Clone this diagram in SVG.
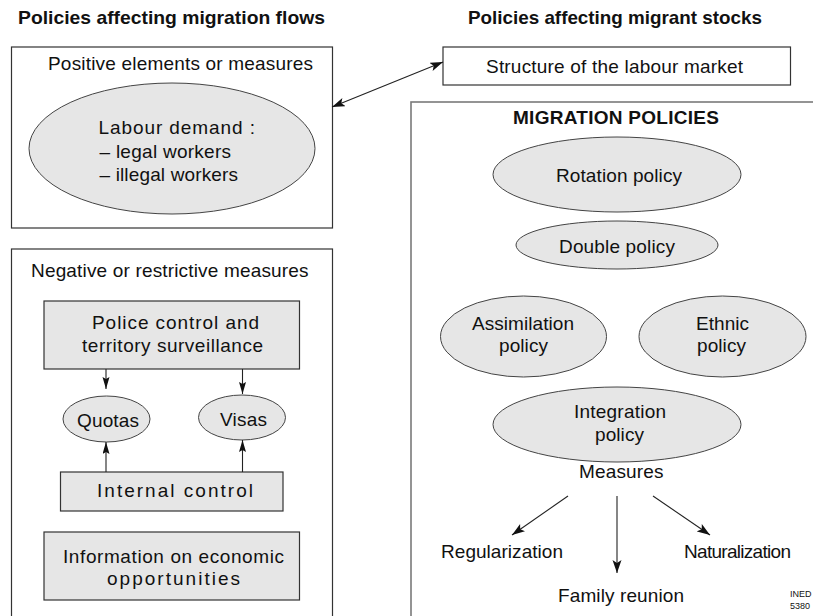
<svg xmlns="http://www.w3.org/2000/svg" width="813" height="616" viewBox="0 0 813 616">
<defs>
<style>
text{font-family:"Liberation Sans",Arial,sans-serif;font-size:19px;fill:#111}
.h{font-weight:bold}
.box{fill:#fff;stroke:#333;stroke-width:1.2}
.gbox{fill:#e6e6e6;stroke:#333;stroke-width:1.2}
.mbox{fill:#fff;stroke:#7a7a7a;stroke-width:1.6}
.el{fill:#e6e6e6;stroke:#444;stroke-width:1}
.ln{stroke:#222;stroke-width:1.1;fill:none}
.sm{font-size:9px}
</style>
<marker id="ah" markerUnits="userSpaceOnUse" markerWidth="14" markerHeight="10" refX="13" refY="4.5" orient="auto-start-reverse" viewBox="0 0 14 10">
<path d="M0,0 L13,4.5 L0,9 L3,4.5 z" fill="#111"/>
</marker>
<marker id="as" markerUnits="userSpaceOnUse" markerWidth="12" markerHeight="8" refX="12" refY="3.5" orient="auto" viewBox="0 0 12 8">
<path d="M0,0 L12,3.5 L0,7 L2,3.5 z" fill="#111"/>
</marker>
</defs>

<text id="hdr-left" class="h" x="18" y="24" font-size="18" textLength="307" lengthAdjust="spacingAndGlyphs">Policies affecting migration flows</text>
<text id="hdr-right" class="h" x="468" y="24" font-size="18" textLength="294" lengthAdjust="spacingAndGlyphs">Policies affecting migrant stocks</text>

<g id="positive">
<rect class="box" x="11.5" y="47" width="321" height="181"/>
<text x="48" y="70" textLength="265">Positive elements or measures</text>
</g>
<g id="labour-demand">
<ellipse class="el" cx="172" cy="148.5" rx="143" ry="65.5"/>
<text x="98.5" y="134" textLength="156.5">Labour demand :</text>
<text x="99.5" y="158" textLength="131.5">– legal workers</text>
<text x="99.5" y="181" textLength="138.5">– illegal workers</text>
</g>

<g id="structure">
<rect class="box" x="443" y="47" width="347.5" height="38"/>
<text x="486" y="73" textLength="257">Structure of the labour market</text>
</g>

<g id="negative">
<rect class="box" x="11.5" y="249" width="321" height="372"/>
<text x="31" y="277" textLength="277.5">Negative or restrictive measures</text>
</g>
<g id="police">
<rect class="gbox" x="44" y="301" width="255.5" height="68"/>
<text x="92" y="329" textLength="167">Police control and</text>
<text x="82" y="352" textLength="181">territory surveillance</text>
</g>
<g id="quotas">
<ellipse class="el" cx="106.5" cy="419" rx="43.5" ry="23"/>
<text x="77" y="427" textLength="62">Quotas</text>
</g>
<g id="visas">
<ellipse class="el" cx="242" cy="417.5" rx="43.5" ry="22.5"/>
<text x="220" y="426" textLength="47">Visas</text>
</g>
<g id="internal">
<rect class="gbox" x="60.5" y="472" width="222.5" height="39"/>
<text x="97" y="497" textLength="156">Internal control</text>
</g>
<g id="information">
<rect class="gbox" x="44" y="532" width="255.5" height="68"/>
<text x="63" y="563" textLength="221">Information on economic</text>
<text x="107" y="585" textLength="133">opportunities</text>
</g>

<g id="migration-policies">
<rect class="mbox" x="411" y="102" width="420" height="520"/>
<text class="h" x="513" y="124" font-size="18" textLength="206">MIGRATION POLICIES</text>
</g>
<g id="rotation">
<ellipse class="el" cx="617" cy="174.5" rx="124" ry="37.5"/>
<text x="556" y="182" textLength="126">Rotation policy</text>
</g>
<g id="double">
<ellipse class="el" cx="617" cy="245" rx="101" ry="24"/>
<text x="559" y="253" textLength="116">Double policy</text>
</g>
<g id="assimilation">
<ellipse class="el" cx="523.5" cy="336.5" rx="83" ry="40.5"/>
<text x="472" y="330" textLength="102">Assimilation</text>
<text x="499" y="352" textLength="49">policy</text>
</g>
<g id="ethnic">
<ellipse class="el" cx="722.5" cy="336.5" rx="83.5" ry="40.5"/>
<text x="696" y="330" textLength="53">Ethnic</text>
<text x="697" y="352" textLength="49">policy</text>
</g>
<g id="integration">
<ellipse class="el" cx="617" cy="424.5" rx="124" ry="37.5"/>
<text x="574" y="418" textLength="92">Integration</text>
<text x="595" y="441" textLength="49">policy</text>
</g>
<g id="measures">
<text x="579" y="478" textLength="84.5">Measures</text>
</g>
<g id="regularization"><text x="441" y="558" textLength="122">Regularization</text></g>
<g id="family"><text x="558" y="602" textLength="126">Family reunion</text></g>
<g id="naturalization"><text x="684" y="558" textLength="107">Naturalization</text></g>
<g id="ined">
<text class="sm" x="790" y="597">INED</text>
<text class="sm" x="790" y="609">5380</text>
</g>

<g id="connectors">
<line class="ln" x1="332" y1="107" x2="443" y2="62" marker-start="url(#ah)" marker-end="url(#ah)"/>
<line class="ln" x1="106" y1="369" x2="106" y2="389" marker-end="url(#as)"/>
<line class="ln" x1="242.5" y1="369" x2="242.5" y2="394" marker-end="url(#as)"/>
<line class="ln" x1="106" y1="472" x2="106" y2="442" marker-end="url(#as)"/>
<line class="ln" x1="242.5" y1="472" x2="242.5" y2="440" marker-end="url(#as)"/>
<line class="ln" x1="568" y1="496" x2="512" y2="535" marker-end="url(#ah)"/>
<line class="ln" x1="617" y1="496" x2="617" y2="573" marker-end="url(#ah)"/>
<line class="ln" x1="653" y1="496" x2="710" y2="535" marker-end="url(#ah)"/>
</g>
</svg>
